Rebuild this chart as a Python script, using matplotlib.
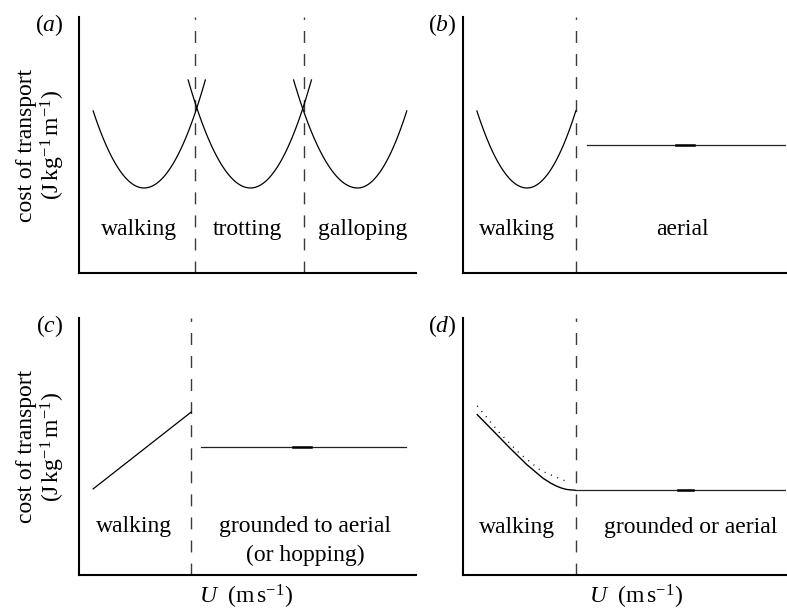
import numpy as np
import matplotlib
matplotlib.use('Agg')
import matplotlib.pyplot as plt

plt.rcParams['font.family'] = ['Liberation Serif', 'DejaVu Serif']
plt.rcParams['mathtext.fontset'] = 'custom'
plt.rcParams['mathtext.rm'] = 'Liberation Serif'
plt.rcParams['mathtext.it'] = 'Liberation Serif:italic'

# gait boundaries (fraction of speed axis)
bounds_a = [0.345, 0.667]
bound_b = 0.349
bound_c = 0.333
bound_d = 0.349

# panel (a): three U-shaped curves -> left end, vertex, right end
a_left = [(0.042, 0.633), (0.324, 0.754), (0.637, 0.754)]
a_vertex = [(0.193, 0.332), (0.509, 0.332), (0.827, 0.332)]
a_right = [(0.375, 0.754), (0.690, 0.754), (0.973, 0.633)]
a_labels = ['walking', 'trotting', 'galloping']
a_label_x = [0.178, 0.500, 0.843]

# panel (b)
b_left = (0.043, 0.633)
b_vertex = (0.198, 0.332)
b_right = (0.349, 0.633)
b_flat_x = [0.383, 1.0]
b_flat_y = 0.5
b_labels = ['walking', 'aerial']
b_label_x = [0.167, 0.679]

# panel (c)
c_walk_x = [0.042, 0.333]
c_walk_y = [0.335, 0.634]
c_flat_x = [0.363, 0.970]
c_flat_y = 0.498
c_labels = ['walking', 'grounded to aerial', '(or hopping)']
c_label_x = [0.164, 0.672, 0.672]
c_label_y = [0.187, 0.187, 0.078]

# panel (d)
d_walk_x = [0.044, 0.094, 0.145, 0.197, 0.248, 0.272, 0.289, 0.305, 0.320, 0.334, 0.346]
d_walk_y = [0.624, 0.560, 0.494, 0.430, 0.376, 0.357, 0.346, 0.338, 0.333, 0.331, 0.330]
d_dot_x = [0.044, 0.116, 0.176, 0.241, 0.318]
d_dot_y = [0.658, 0.549, 0.472, 0.406, 0.365]
d_flat_x = [0.346, 1.0]
d_flat_y = 0.330
d_labels = ['walking', 'grounded or aerial']
d_label_x = [0.166, 0.706]

ylab1 = 'cost of transport'
ylab2 = r'$(\mathrm{J\,kg^{-1}\,m^{-1}})$'
xlab = r'$U\ \ (\mathrm{m\,s^{-1}})$'

FS = 17
DASH = (0, (8.6, 8.0))
DASHCOL = '#3a3a3a'


def u_curve(ax, left, vertex, right):
    xl = np.linspace(left[0], vertex[0], 60)
    yl = vertex[1] + (left[1] - vertex[1]) * ((xl - vertex[0]) / (left[0] - vertex[0])) ** 2
    xr = np.linspace(vertex[0], right[0], 60)
    yr = vertex[1] + (right[1] - vertex[1]) * ((xr - vertex[0]) / (right[0] - vertex[0])) ** 2
    ax.plot(np.r_[xl, xr], np.r_[yl, yr], color='black', lw=0.9)


def setup(ax, tag, tag_x, ylabel=False, xlabel=None):
    ax.set_xlim(0, 1)
    ax.set_ylim(0, 1)
    ax.set_xticks([])
    ax.set_yticks([])
    for s in ['top', 'right']:
        ax.spines[s].set_visible(False)
    for s in ['left', 'bottom']:
        ax.spines[s].set_linewidth(1.5)
    ax.text(tag_x, 0.97, r'$(\mathit{%s})$' % tag, transform=ax.transAxes,
            ha='right', va='center', fontsize=FS)
    if ylabel:
        ax.text(-0.157, 0.5, ylab1, transform=ax.transAxes, rotation=90,
                ha='center', va='center', fontsize=FS)
        ax.text(-0.077, 0.5, ylab2, transform=ax.transAxes, rotation=90,
                ha='center', va='center', fontsize=FS)
    if xlabel is not None:
        ax.text(xlabel, -0.085, xlab, transform=ax.transAxes,
                ha='center', va='center', fontsize=FS)


fig = plt.figure(figsize=(7.87, 6.10), dpi=100)
ax_a = fig.add_axes([0.1004, 0.5525, 0.428, 0.4197])
ax_b = fig.add_axes([0.5883, 0.5525, 0.4107, 0.4197])
ax_c = fig.add_axes([0.1004, 0.0574, 0.428, 0.4213])
ax_d = fig.add_axes([0.5883, 0.0574, 0.4107, 0.4213])

# (a)
setup(ax_a, 'a', -0.047, ylabel=True)
for xb in bounds_a:
    ax_a.plot([xb, xb], [0, 1], color=DASHCOL, lw=1.0, ls=DASH)
for l, v, r in zip(a_left, a_vertex, a_right):
    u_curve(ax_a, l, v, r)
for lab, x in zip(a_labels, a_label_x):
    ax_a.text(x, 0.168, lab, ha='center', va='center', fontsize=FS)

# (b)
setup(ax_b, 'b', -0.019)
ax_b.plot([bound_b, bound_b], [0, 1], color=DASHCOL, lw=1.0, ls=DASH)
u_curve(ax_b, b_left, b_vertex, b_right)
ax_b.plot(b_flat_x, [b_flat_y, b_flat_y], color='#222222', lw=0.9)
ax_b.plot([0.660, 0.716], [b_flat_y, b_flat_y], color='black', lw=1.8)
for lab, x in zip(b_labels, b_label_x):
    ax_b.text(x, 0.168, lab, ha='center', va='center', fontsize=FS)

# (c)
setup(ax_c, 'c', -0.047, ylabel=True, xlabel=0.497)
ax_c.plot([bound_c, bound_c], [0, 1], color=DASHCOL, lw=1.0, ls=DASH)
ax_c.plot(c_walk_x, c_walk_y, color='black', lw=0.9)
ax_c.plot(c_flat_x, [c_flat_y, c_flat_y], color='#222222', lw=0.9)
ax_c.plot([0.634, 0.690], [c_flat_y, c_flat_y], color='black', lw=1.8)
for lab, x, y in zip(c_labels, c_label_x, c_label_y):
    ax_c.text(x, y, lab, ha='center', va='center', fontsize=FS)

# (d)
setup(ax_d, 'd', -0.019, xlabel=0.535)
ax_d.plot([bound_d, bound_d], [0, 1], color=DASHCOL, lw=1.0, ls=DASH)
ax_d.plot(d_dot_x, d_dot_y, color='black', lw=1.0, ls=(0, (0.7, 4.2)))
ax_d.plot(d_walk_x, d_walk_y, color='black', lw=1.0)
ax_d.plot(d_flat_x, [d_flat_y, d_flat_y], color='#222222', lw=0.9)
ax_d.plot([0.664, 0.713], [d_flat_y, d_flat_y], color='black', lw=1.8)
for lab, x in zip(d_labels, d_label_x):
    ax_d.text(x, 0.185, lab, ha='center', va='center', fontsize=FS)

fig.savefig('out.png', dpi=100)
